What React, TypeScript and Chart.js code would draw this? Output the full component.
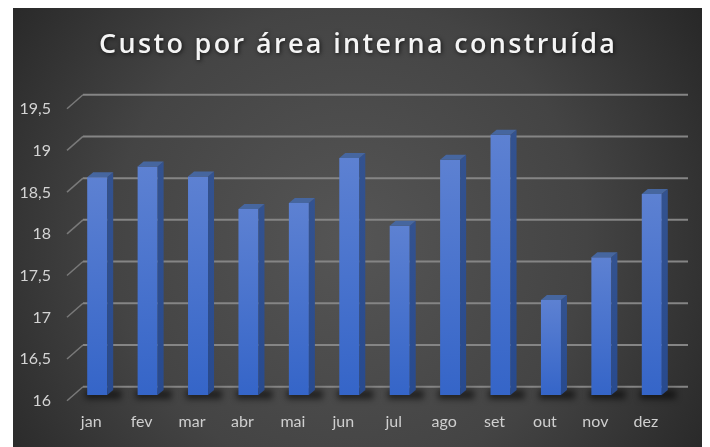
import React, { useEffect, useRef } from "react";
import { Chart, registerables } from "chart.js";

Chart.register(...registerables);

const months = ["jan", "fev", "mar", "abr", "mai", "jun", "jul", "ago", "set", "out", "nov", "dez"];
const custo = [18.61, 18.74, 18.62, 18.23, 18.3, 18.84, 18.03, 18.82, 19.12, 17.14, 17.65, 18.41];
const yTickLabels = ["16", "16,5", "17", "17,5", "18", "18,5", "19", "19,5"];
const titleText = "Custo por área interna construída";

const DX = 6; // bar depth x
const DY = 5; // bar depth y

const bgPlugin = {
  id: "bg3d",
  beforeDraw(chart: any) {
    const { ctx, width, height } = chart;
    ctx.save();
    ctx.fillStyle = "#ffffff";
    ctx.fillRect(0, 0, width, height);
    const g = ctx.createRadialGradient(350, 240, 0, 350, 240, 430);
    g.addColorStop(0, "#555555");
    g.addColorStop(0.55, "#444444");
    g.addColorStop(1, "#262626");
    ctx.fillStyle = g;
    ctx.fillRect(13, 8, 689, 439);
    ctx.restore();
  },
  beforeDatasetsDraw(chart: any) {
    const { ctx, chartArea, scales } = chart;
    const y = scales.y;
    ctx.save();
    y.ticks.forEach((t: any) => {
      const yf = y.getPixelForValue(t.value);
      ctx.strokeStyle = "#858585";
      ctx.lineWidth = 2;
      ctx.beginPath();
      ctx.moveTo(chartArea.left + 11, yf - 8.3);
      ctx.lineTo(chartArea.right + 11, yf - 8.3);
      ctx.stroke();
      ctx.strokeStyle = "#7a7a7a";
      ctx.lineWidth = 1.5;
      ctx.beginPath();
      ctx.moveTo(chartArea.left - 5, yf + 5.7);
      ctx.lineTo(chartArea.left + 11, yf - 8.3);
      ctx.stroke();
    });
    const meta = chart.getDatasetMeta(0);
    ctx.filter = "blur(3px)";
    ctx.fillStyle = "rgba(0,0,0,0.55)";
    meta.data.forEach((bar: any) => {
      const left = bar.x - bar.width / 2;
      ctx.fillRect(left - 2, bar.base - 5, bar.width + 16, 9);
    });
    ctx.filter = "none";
    ctx.restore();
  },
  afterDatasetsDraw(chart: any) {
    const { ctx } = chart;
    const meta = chart.getDatasetMeta(0);
    ctx.save();
    meta.data.forEach((bar: any) => {
      const left = bar.x - bar.width / 2;
      const right = bar.x + bar.width / 2;
      const top = bar.y;
      const base = bar.base;
      const sg = ctx.createLinearGradient(0, top, 0, base);
      sg.addColorStop(0, "#33528f");
      sg.addColorStop(1, "#284a8e");
      ctx.fillStyle = sg;
      ctx.beginPath();
      ctx.moveTo(right, top);
      ctx.lineTo(right + DX, top - DY);
      ctx.lineTo(right + DX, base - DY);
      ctx.lineTo(right, base);
      ctx.closePath();
      ctx.fill();
      ctx.fillStyle = "#46669f";
      ctx.beginPath();
      ctx.moveTo(left, top);
      ctx.lineTo(left + DX, top - DY);
      ctx.lineTo(right + DX, top - DY);
      ctx.lineTo(right, top);
      ctx.closePath();
      ctx.fill();
    });
    ctx.restore();
  },
  afterDraw(chart: any) {
    const { ctx } = chart;
    ctx.save();
    ctx.font = "600 27px 'Open Sans'";
    ctx.letterSpacing = "0px";
    const w0 = ctx.measureText(titleText).width;
    const target = 516;
    const ls = (target - w0) / (titleText.length - 1);
    ctx.letterSpacing = ls + "px";
    ctx.textAlign = "left";
    ctx.textBaseline = "alphabetic";
    ctx.shadowColor = "rgba(0,0,0,0.7)";
    ctx.shadowBlur = 4;
    ctx.shadowOffsetX = 1;
    ctx.shadowOffsetY = 1;
    ctx.fillStyle = "#f4f4f4";
    ctx.fillText(titleText, 357 - target / 2, 53);
    ctx.restore();
  },
};

export default function App() {
  const ref = useRef<HTMLCanvasElement | null>(null);
  useEffect(() => {
    if (!ref.current) return;
    const chart = new Chart(ref.current, {
      type: "bar",
      data: {
        labels: months,
        datasets: [
          {
            label: titleText,
            data: custo,
            base: 16,
            barPercentage: 0.397,
            categoryPercentage: 1,
            borderWidth: 0,
            backgroundColor: (c: any) => {
              const ch = c.chart;
              if (c.type !== "data" || !ch.chartArea) return "#4472c4";
              const ys = ch.scales.y;
              const t = ys.getPixelForValue(c.raw);
              const b = ys.getPixelForValue(16);
              const g = ch.ctx.createLinearGradient(0, t, 0, b);
              g.addColorStop(0, "#5d81d2");
              g.addColorStop(1, "#3565c8");
              return g;
            },
          },
        ],
      },
      options: {
        animation: false,
        responsive: true,
        maintainAspectRatio: false,
        layout: { padding: { top: 103, right: 33, left: 0, bottom: 0 } },
        plugins: {
          legend: { display: false },
          title: { display: false },
          tooltip: { enabled: false },
        },
        scales: {
          x: {
            offset: true,
            grid: { display: false, drawTicks: false, tickLength: 0 },
            border: { display: false },
            ticks: {
              color: "#cfcfcf",
              font: { family: "Lato", size: 16 },
              padding: 17,
              labelOffset: -6,
              maxRotation: 0,
            },
            afterFit: (s: any) => {
              s.height = 52;
            },
          },
          y: {
            min: 16,
            max: 19.5,
            grid: { display: false, drawTicks: false, tickLength: 0 },
            border: { display: false },
            ticks: {
              stepSize: 0.5,
              color: "#d4d4d4",
              font: { family: "Lato", size: 16 },
              padding: 21,
              labelOffset: 6,
              callback: (_v: any, i: number) => yTickLabels[i],
            },
            afterFit: (s: any) => {
              s.width = 72;
            },
          },
        },
      },
      plugins: [bgPlugin],
    });
    return () => chart.destroy();
  }, []);
  return (
    <div style={{ position: "fixed", left: 0, top: 0, width: 710, height: 447 }}>
      <canvas ref={ref} />
    </div>
  );
}
